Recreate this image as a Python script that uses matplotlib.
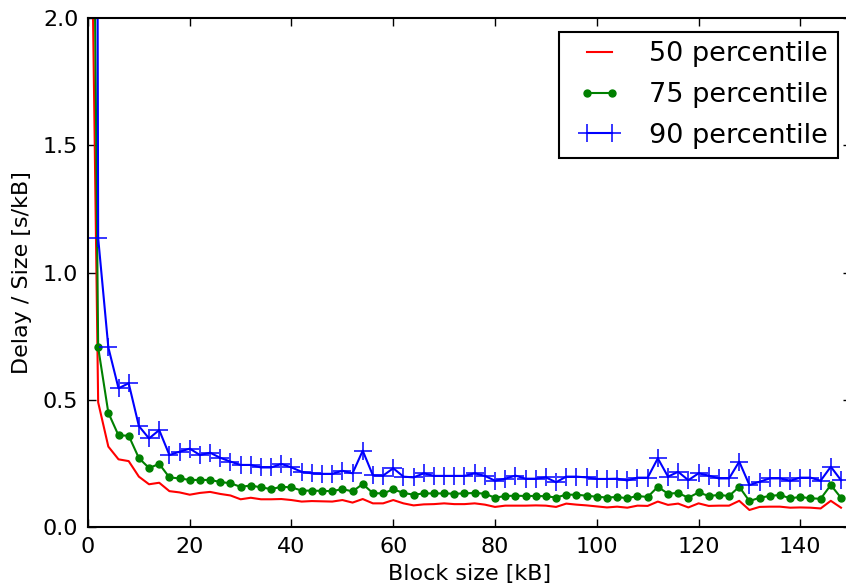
import matplotlib
matplotlib.use("Agg")
import matplotlib.pyplot as plt
from matplotlib.legend_handler import HandlerLine2D
import numpy as np

block_size = [0] + list(range(2, 150, 2))

p50 = [3.5,
       0.49, 0.316, 0.266, 0.259, 0.198, 0.168, 0.174, 0.141, 0.136, 0.127,
       0.134, 0.138, 0.130, 0.124, 0.109, 0.115, 0.109, 0.109, 0.110, 0.106,
       0.100, 0.102, 0.101, 0.100, 0.106, 0.096, 0.110, 0.093,
       0.093, 0.106, 0.093, 0.085, 0.089, 0.090, 0.093, 0.090, 0.090, 0.093,
       0.088, 0.079, 0.084, 0.084, 0.084, 0.085, 0.084, 0.079, 0.092, 0.088,
       0.085, 0.081, 0.077, 0.080, 0.076,
       0.084, 0.083, 0.100, 0.087, 0.092, 0.077, 0.093, 0.083, 0.084, 0.084,
       0.103, 0.067, 0.079, 0.080, 0.080, 0.076, 0.077, 0.076, 0.073, 0.103,
       0.076]

p75 = [5.0,
       0.706, 0.449, 0.360, 0.359, 0.271, 0.232, 0.248, 0.195, 0.191, 0.185,
       0.185, 0.185, 0.177, 0.172, 0.158, 0.163, 0.156, 0.149, 0.158, 0.156,
       0.143, 0.143, 0.142, 0.141, 0.149, 0.140, 0.169, 0.133,
       0.132, 0.148, 0.134, 0.127, 0.132, 0.132, 0.132, 0.131, 0.132, 0.134,
       0.131, 0.115, 0.122, 0.123, 0.122, 0.122, 0.121, 0.116, 0.127, 0.127,
       0.123, 0.119, 0.116, 0.118, 0.113,
       0.122, 0.118, 0.158, 0.131, 0.134, 0.115, 0.136, 0.122, 0.126, 0.122,
       0.158, 0.102, 0.115, 0.122, 0.126, 0.113, 0.118, 0.113, 0.111, 0.165,
       0.115]

p90 = [18.0,
       1.136, 0.706, 0.545, 0.565, 0.397, 0.348, 0.381, 0.283, 0.296, 0.308,
       0.283, 0.292, 0.272, 0.257, 0.244, 0.244, 0.234, 0.234, 0.248, 0.234,
       0.217, 0.211, 0.209, 0.209, 0.221, 0.211, 0.300, 0.203,
       0.202, 0.231, 0.198, 0.195, 0.211, 0.201, 0.201, 0.201, 0.201, 0.211,
       0.201, 0.182, 0.190, 0.202, 0.190, 0.190, 0.195, 0.176, 0.198, 0.198,
       0.195, 0.189, 0.189, 0.190, 0.183,
       0.194, 0.194, 0.270, 0.198, 0.217, 0.184, 0.211, 0.202, 0.191, 0.191,
       0.257, 0.165, 0.178, 0.191, 0.191, 0.182, 0.194, 0.194, 0.182, 0.237,
       0.184]

labels = ["50 percentile", "75 percentile", "90 percentile"]
x_ticks = [0, 20, 40, 60, 80, 100, 120, 140]
y_ticks = [0.0, 0.5, 1.0, 1.5, 2.0]

plt.rcParams['font.family'] = ['DejaVu Sans']
fig = plt.figure(figsize=(8.46, 5.88), dpi=100)
ax = fig.add_axes([0.104, 0.1037, 0.9021, 0.8656])

l50, = ax.plot(block_size, p50, color='red', lw=1.5, label=labels[0])
l75, = ax.plot(block_size, p75, color='green', lw=1.5, marker='o',
               markersize=5, label=labels[1])
l90, = ax.plot(block_size, p90, color='blue', lw=1.5, marker='+',
               markersize=12.5, markeredgewidth=1.1, label=labels[2])

ax.set_xlim(0, 150)
ax.set_ylim(0, 2.0)
ax.set_xticks(x_ticks)
ax.set_yticks(y_ticks)
ax.set_yticklabels([f"{v:.1f}" for v in y_ticks])
ax.tick_params(direction='in', length=6, width=1, labelsize=16,
               top=True, right=True, pad=7)
for s in ax.spines.values():
    s.set_linewidth(1.5)

ax.set_xlabel("Block size [kB]", fontsize=16, labelpad=5)
ax.set_ylabel("Delay / Size [s/kB]", fontsize=16, labelpad=8)

hmap = {h: HandlerLine2D(numpoints=2, xpad=0.37) for h in (l50, l75, l90)}
leg = ax.legend(handles=[l50, l75, l90], loc='upper right',
                bbox_to_anchor=(0.9905, 0.9456),
                bbox_transform=fig.transFigure, borderaxespad=0,
                fontsize=19.5, numpoints=2, fancybox=False, framealpha=1,
                edgecolor='black', handlelength=1.89, handletextpad=1.1,
                labelspacing=0.54, borderpad=0.35, handler_map=hmap)
leg.get_frame().set_linewidth(1.5)

fig.savefig("out.png", dpi=100)
